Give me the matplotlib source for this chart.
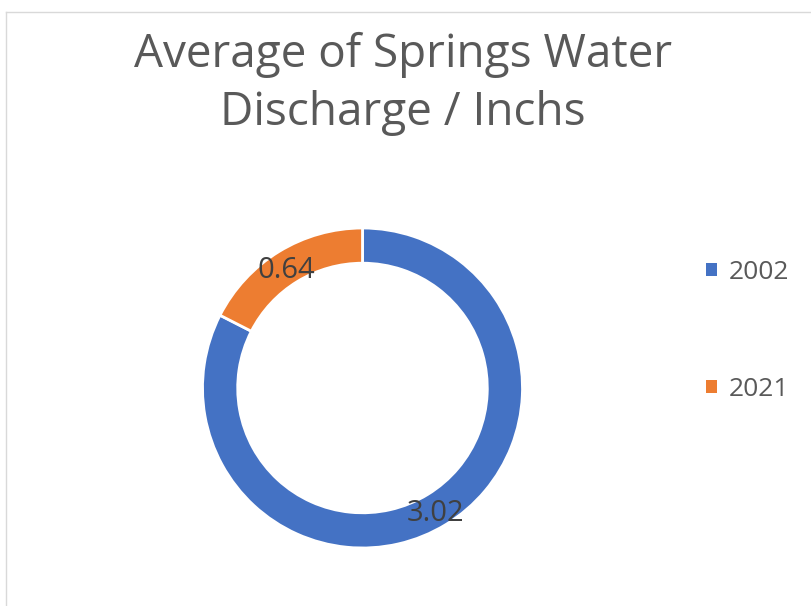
import matplotlib
matplotlib.use("Agg")
import matplotlib.pyplot as plt
from matplotlib.lines import Line2D
from matplotlib.patches import Patch

years = ["2002", "2021"]
discharge = [3.02, 0.64]
colors = ["#4472C4", "#ED7D31"]
title_lines = ["Average of Springs Water", "Discharge / Inchs"]

plt.rcParams['font.family'] = ['Open Sans', 'DejaVu Sans']

W, H = 811, 606
fig = plt.figure(figsize=(W / 100, H / 100), dpi=100)

# light chart border (top and left edges visible)
fig.add_artist(Line2D([6 / W, 6 / W], [0, 1 - 12 / H], color="#d9d9d9", lw=1))
fig.add_artist(Line2D([6 / W, 1], [1 - 12 / H, 1 - 12 / H], color="#d9d9d9", lw=1))

# donut placed at centre (362, 388) px, outer radius 160 px
cx, cy, r = 362.5, 388, 160
ax = fig.add_axes([(cx - r) / W, 1 - (cy + r) / H, 2 * r / W, 2 * r / H])

total = sum(discharge)
wedges, texts, autotexts = ax.pie(
    discharge,
    colors=colors,
    startangle=90,
    counterclock=False,
    radius=1,
    wedgeprops=dict(width=0.22, edgecolor="white", linewidth=2),
    autopct=lambda p: f"{p * total / 100:.2f}",
    pctdistance=0.89,
    textprops=dict(color="#404040", fontsize=21),
)
for t in autotexts:
    x, y = t.get_position()
    t.set_position((x - 0.01, y - 0.025))
ax.set_xlim(-1, 1)
ax.set_ylim(-1, 1)
ax.set_aspect("equal")
ax.axis("off")

# title, two lines
for line, base in zip(title_lines, [67, 125]):
    fig.text(403 / W, 1 - base / H, line, ha="center", va="baseline",
             fontsize=33, color="#595959")

# legend
handles = [Patch(facecolor=c, edgecolor="none") for c in colors]
fig.legend(handles, years, loc="center left",
           bbox_to_anchor=(706 / W, 1 - 331 / H), bbox_transform=fig.transFigure,
           frameon=False, fontsize=19, labelcolor="#595959",
           handlelength=0.4, handleheight=0.4, handletextpad=0.45,
           borderpad=0, borderaxespad=0, labelspacing=3.5)

fig.savefig("out.png", dpi=100)
